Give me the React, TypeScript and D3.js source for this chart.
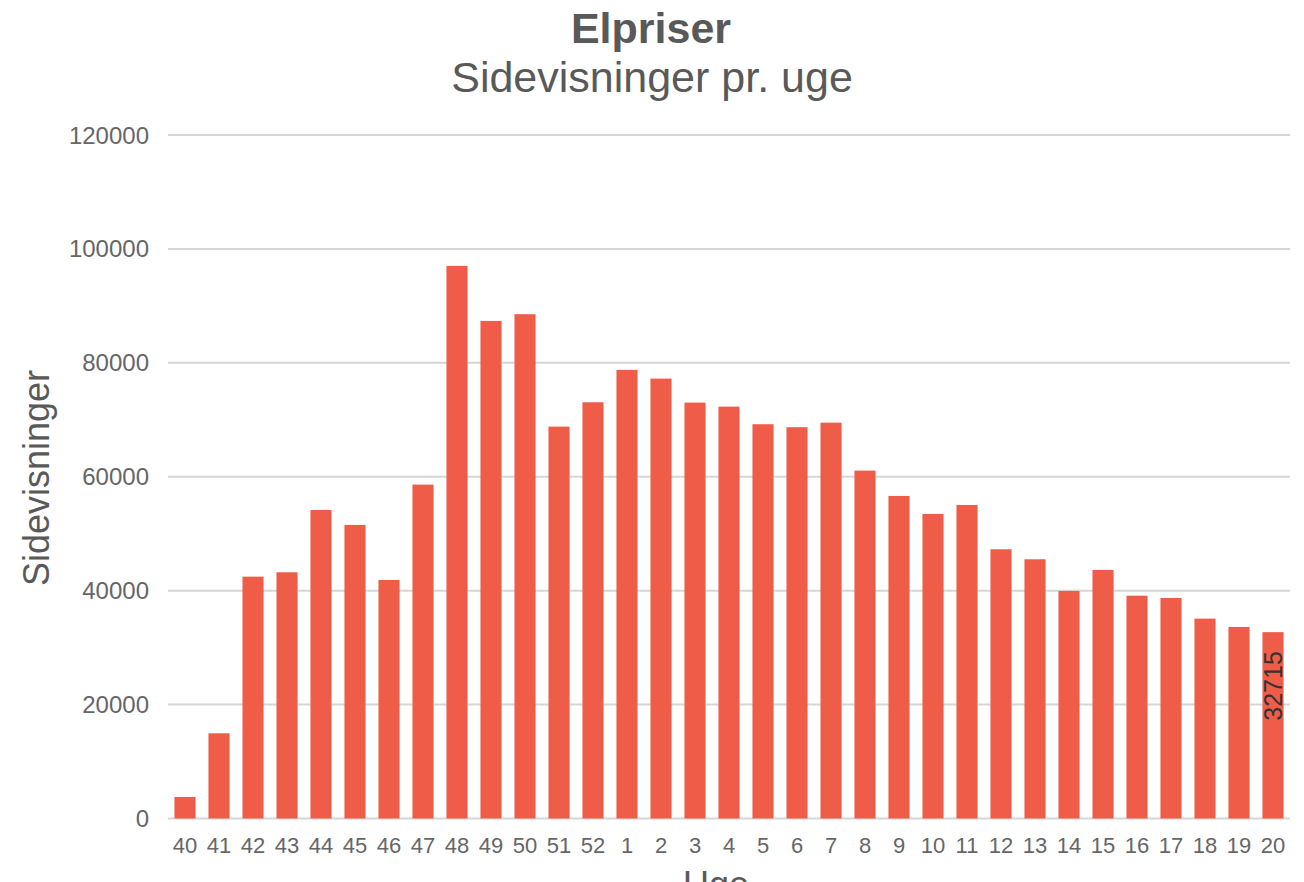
import React from 'react';
import * as d3 from 'd3';

const weeks = ['40', '41', '42', '43', '44', '45', '46', '47', '48', '49', '50', '51', '52',
  '1', '2', '3', '4', '5', '6', '7', '8', '9', '10', '11', '12', '13', '14', '15', '16', '17', '18', '19', '20'];
const views = [3780, 14960, 42460, 43230, 54170, 51540, 41880, 58620, 97020, 87360, 88540, 68800, 73080,
  78760, 77230, 73020, 72310, 69220, 68700, 69500, 61080, 56630, 53470, 55050, 47270, 45510, 39950, 43640,
  39120, 38720, 35090, 33630, 32715];
const yTicks = [0, 20000, 40000, 60000, 80000, 100000, 120000];
const labelled = ['20'];

const W = 1304;
const H = 882;
const font = '"Liberation Sans", Arial, sans-serif';

export default function App() {
  const x = d3.scaleBand<string>().domain(weeks).range([168, 1290]).paddingInner(0.38).paddingOuter(0.19);
  const y = d3.scaleLinear().domain([0, 120000]).range([818.5, 135]);

  return (
    <svg width={W} height={H} style={{ position: 'absolute', left: 0, top: 0, background: '#fff' }}>
      <text x={651} y={43} textAnchor="middle" fontFamily={font} fontWeight="bold" fontSize={43} fill="#595959">Elpriser</text>
      <text x={652} y={92} textAnchor="middle" fontFamily={font} fontSize={43} fill="#595959">Sidevisninger pr. uge</text>

      {/* grid */}
      {yTicks.map(t => (
        <g key={t}>
          <line x1={168} x2={1290} y1={y(t)} y2={y(t)} stroke="#d6d6d6" strokeWidth={2} />
          <text x={149} y={y(t) + 8.5} textAnchor="end" fontFamily={font} fontSize={24} fill="#666">{t}</text>
        </g>
      ))}

      {/* bars */}
      {views.map((v, i) => (
        <rect key={weeks[i]} x={x(weeks[i])} y={y(v)} width={x.bandwidth()} height={y(0) - y(v)} fill="#ef5c48" />
      ))}

      {views.map((v, i) => labelled.includes(weeks[i]) ? (
        <text key={'l' + i} transform={`translate(${x(weeks[i])! + x.bandwidth() / 2 + 8.5},${y(v) + 19}) rotate(-90)`}
          textAnchor="end" fontFamily={font} fontSize={25} fill="#333">{v}</text>
      ) : null)}

      {weeks.map(w => (
        <text key={'x' + w} x={x(w)! + x.bandwidth() / 2} y={853} textAnchor="middle" fontFamily={font} fontSize={22} fill="#666">{w}</text>
      ))}

      <text transform={`translate(49,478) rotate(-90)`} textAnchor="middle" fontFamily={font} fontSize={36} fill="#595959">Sidevisninger</text>
      <text x={716} y={897} textAnchor="middle" fontFamily={font} fontSize={36} fill="#595959">Uge</text>
    </svg>
  );
}
